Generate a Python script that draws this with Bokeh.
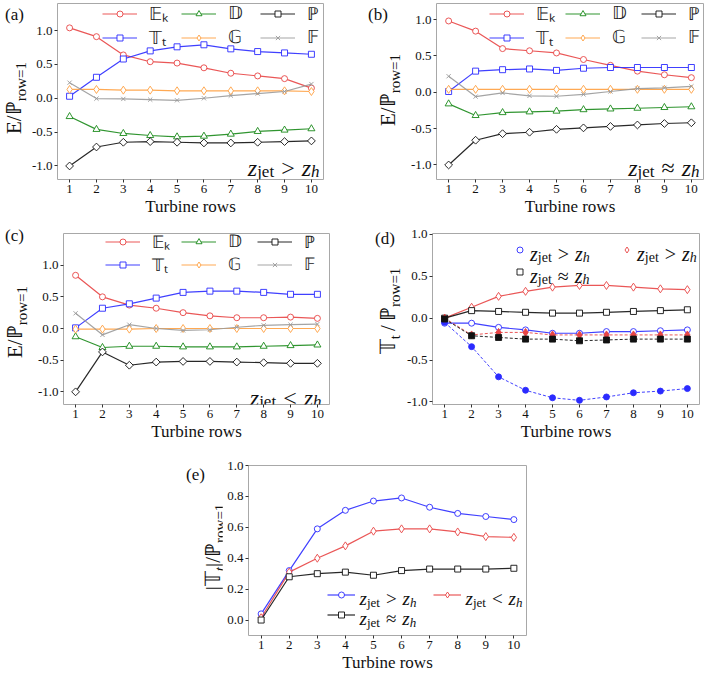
import numpy as np
from bokeh.plotting import figure
from bokeh.layouts import column, row
from bokeh.models import Label, Legend, LegendItem, FixedTicker, Range1d, PrintfTickFormatter, Div
from bokeh.embed import file_html
from bokeh.resources import INLINE

FONT = "Liberation Serif"

rows = [1, 2, 3, 4, 5, 6, 7, 8, 9, 10]
yticks_e = [-1.0, -0.5, 0.0, 0.5, 1.0]
yticks_abs = [0.0, 0.2, 0.4, 0.6, 0.8, 1.0]

# (a) z_jet > z_h
a_Ek = [1.04, 0.91, 0.64, 0.54, 0.52, 0.45, 0.37, 0.33, 0.29, 0.15]
a_Tt = [0.03, 0.31, 0.58, 0.70, 0.76, 0.79, 0.73, 0.69, 0.67, 0.65]
a_D = [-0.27, -0.46, -0.52, -0.55, -0.57, -0.56, -0.53, -0.49, -0.47, -0.45]
a_G = [0.13, 0.13, 0.12, 0.12, 0.11, 0.11, 0.11, 0.11, 0.11, 0.10]
a_P = [-1.00, -0.72, -0.65, -0.64, -0.65, -0.66, -0.66, -0.65, -0.64, -0.63]
a_F = [0.23, -0.005, -0.01, -0.02, -0.03, 0.00, 0.04, 0.07, 0.10, 0.21]

# (b) z_jet ~ z_h
b_Ek = [0.98, 0.84, 0.60, 0.57, 0.54, 0.45, 0.37, 0.29, 0.24, 0.20]
b_Tt = [0.01, 0.29, 0.31, 0.32, 0.30, 0.33, 0.34, 0.34, 0.34, 0.34]
b_D = [-0.16, -0.32, -0.28, -0.27, -0.26, -0.24, -0.23, -0.22, -0.21, -0.20]
b_G = [0.04, 0.04, 0.04, 0.04, 0.04, 0.04, 0.04, 0.04, 0.04, 0.04]
b_P = [-1.00, -0.66, -0.57, -0.55, -0.51, -0.49, -0.47, -0.45, -0.43, -0.42]
b_F = [0.22, -0.06, -0.01, -0.05, -0.055, -0.03, 0.01, 0.05, 0.06, 0.08]

# (c) z_jet < z_h
c_Ek = [0.84, 0.50, 0.37, 0.32, 0.25, 0.20, 0.17, 0.17, 0.18, 0.16]
c_Tt = [0.01, 0.32, 0.39, 0.48, 0.57, 0.59, 0.59, 0.57, 0.54, 0.54]
c_D = [-0.13, -0.30, -0.28, -0.28, -0.29, -0.29, -0.29, -0.28, -0.27, -0.26]
c_G = [-0.01, -0.01, -0.01, 0.00, 0.00, 0.00, 0.00, 0.00, 0.00, 0.00]
c_P = [-1.00, -0.37, -0.58, -0.53, -0.52, -0.52, -0.53, -0.54, -0.55, -0.55]
c_F = [0.24, -0.10, 0.06, 0.00, -0.03, -0.02, 0.02, 0.05, 0.06, 0.07]

# (d) T_t / P_row=1
d_above_solid = [-0.06, -0.06, -0.11, -0.14, -0.18, -0.18, -0.16, -0.16, -0.15, -0.14]
d_above_dash = [-0.05, -0.34, -0.70, -0.86, -0.95, -0.98, -0.94, -0.89, -0.87, -0.84]
d_below_solid = [0.00, 0.13, 0.26, 0.32, 0.37, 0.39, 0.39, 0.37, 0.35, 0.34]
d_below_dash = [0.00, -0.20, -0.17, -0.17, -0.20, -0.20, -0.20, -0.20, -0.20, -0.20]
d_approx_solid = [0.00, 0.09, 0.08, 0.07, 0.06, 0.06, 0.07, 0.08, 0.09, 0.10]
d_approx_dash = [-0.01, -0.21, -0.23, -0.25, -0.25, -0.27, -0.26, -0.25, -0.25, -0.25]

# (e) |T_t| / P_row=1
e_above = [0.04, 0.32, 0.59, 0.71, 0.77, 0.79, 0.73, 0.69, 0.67, 0.65]
e_below = [0.015, 0.31, 0.40, 0.48, 0.575, 0.59, 0.59, 0.57, 0.54, 0.535]
e_approx = [0.00, 0.28, 0.30, 0.31, 0.29, 0.32, 0.33, 0.33, 0.33, 0.335]

energy_labels = ["𝔼ₖ", "𝕋ₜ", "𝔻", "𝔾", "ℙ", "𝔽"]

RED = "#e84545"
BLUE = "#2b2bff"
GREEN = "#1a8a1a"
ORANGE = "#ffa040"
BLACK = "#111111"
GRAY = "#9a9a9a"

CW = {"z": .389, "j": .278, "e": .444, "t": .278, "h": .5,
      ">": .564, "<": .564, "≈": .549}


def tw(s, size):
    return sum(CW.get(c, 0.6) for c in s) * size


def seglen(segs):
    return sum(g + tw(t, s) for t, s, _, _, g in segs)


def rich(p, segs, x, y):
    pos = 0.0
    for text, size, shift, style, gap in segs:
        pos += gap
        p.add_layout(Label(x=x + pos, y=y - shift, x_units="screen", y_units="screen", text=text,
                           text_font=FONT, text_font_size=f"{size}px", text_font_style=style,
                           text_align="left", text_baseline="alphabetic", text_color="#111111"))
        pos += tw(text, size)
    return pos


def side_div(w, h, tag, tx, ty, ylab, cx, cy):
    html = (
        f'<div style="position:relative;width:{w}px;height:{h}px;overflow:visible;'
        f'font-family:\'{FONT}\',serif;color:#111;">'
        f'<div style="position:absolute;left:{tx}px;top:{ty}px;font-size:17px;line-height:1;'
        f'white-space:nowrap;">{tag}</div>'
        f'<div style="position:absolute;left:{cx}px;top:{cy}px;font-size:21px;line-height:1;'
        f'white-space:nowrap;transform:translate(-50%,-50%) rotate(-90deg);">{ylab}</div>'
        '</div>'
    )
    return Div(text=html, width=w, height=h, margin=0, styles={"overflow": "visible"})


SUB = '<span style="position:relative;top:0.3em;font-size:15px;">{}</span>'
YL_E = "E/ℙ" + SUB.format("row=1")
YL_D = "𝕋" + SUB.format("t") + "&#8201;/&#8201;ℙ" + SUB.format("row=1")
YL_ABS = "|𝕋" + SUB.format("<i>t</i>") + "|/ℙ" + SUB.format("row=1")


def make_fig(width, height, bl, br, bt, bb, yr, yticks):
    p = figure(width=width, height=height, x_range=Range1d(0.55, 10.45), y_range=Range1d(*yr),
               output_backend="svg", toolbar_location=None,
               min_border_left=bl, min_border_right=br, min_border_top=bt, min_border_bottom=bb)
    p.grid.visible = False
    p.outline_line_color = "#a8a8a8"
    p.outline_line_width = 1
    for ax in (p.xaxis, p.yaxis):
        ax.axis_line_color = None
        ax.major_tick_line_color = "#333333"
        ax.major_tick_in = 0
        ax.major_tick_out = 3
        ax.minor_tick_line_color = None
        ax.major_label_text_font = FONT
        ax.major_label_text_font_size = "13px"
        ax.major_label_text_color = "#111111"
        ax.major_label_standoff = 2
    p.xaxis.ticker = FixedTicker(ticks=rows)
    p.yaxis.ticker = FixedTicker(ticks=yticks)
    p.yaxis.formatter = PrintfTickFormatter(format="%.1f")
    p.xaxis.axis_label = "Turbine rows"
    p.xaxis.axis_label_text_font = FONT
    p.xaxis.axis_label_text_font_style = "normal"
    p.xaxis.axis_label_text_font_size = "17px"
    p.xaxis.axis_label_text_color = "#111111"
    p.xaxis.axis_label_standoff = 1
    return p


def series(p, y, color, marker, size, fill="white", dash="solid", lw=1.2, angle=0.0, alpha=0.9):
    l = p.line(rows, y, line_color=color, line_width=lw, line_dash=dash, line_alpha=alpha)
    s = p.scatter(rows, y, marker=marker, size=size, line_color=color, fill_color=fill,
                  line_width=1, line_alpha=alpha, angle=angle)
    return [l, s]


def energy_panel(p, data, leg_x, leg_top, fh, fs="18px", lw=32):
    Ek, Tt, D, G, P, F = data
    rs = [series(p, Ek, RED, "circle", 6),
          series(p, Tt, BLUE, "square", 6),
          series(p, D, GREEN, "triangle", 7),
          series(p, G, ORANGE, "diamond", 8),
          series(p, P, BLACK, "square", 5.5, angle=np.pi / 4),
          series(p, F, GRAY, "x", 6)]
    items = [LegendItem(label=lab, renderers=r) for lab, r in zip(energy_labels, rs)]
    leg = Legend(items=items, location=(leg_x, fh - leg_top - 42), nrows=2,
                 orientation="vertical",
                 border_line_color=None, background_fill_alpha=0.0,
                 label_text_font=FONT, label_text_font_size=fs, label_text_color="#222222",
                 glyph_width=35, glyph_height=15, label_height=15, label_width=lw,
                 label_standoff=12, spacing=0, padding=0, margin=0)
    p.add_layout(leg)


def zlabel(p, rel, fw, right_gap, base):
    segs = [("z", 24, 0, "italic", 0), ("jet", 17, 4, "normal", 0), (rel, 24, 0, "normal", 7),
            ("z", 24, 0, "italic", 7), ("h", 17, 4, "italic", 0)]
    rich(p, segs, fw - right_gap - seglen(segs), base)


def marker_key(p, renderers, x, cy, gw, rel, std, big=20, small=14):
    leg = Legend(items=[LegendItem(label=" ", renderers=renderers)],
                 location=(x, cy - 7.5), border_line_color=None, background_fill_alpha=0.0,
                 label_text_font_size="6px", glyph_width=gw, glyph_height=15,
                 label_height=15, label_width=0, label_standoff=0, padding=0, margin=0)
    p.add_layout(leg)
    segs = [("z", big, 0, "italic", 0), ("jet", small, 4, "normal", 0), (rel, big, 0, "normal", 6),
            ("z", big, 0, "italic", 6), ("h", small, 4, "italic", 0)]
    rich(p, segs, x + gw + std, cy - 4)


# ---------- row 1 (panels a, b) ----------
H1 = 225
FH1 = H1 - 3 - 46
da = side_div(28, H1, "(a)", 5, 6, YL_E, 13.5, 98)
pa = make_fig(325, H1, 26, 30, 3, 46, (-1.2, 1.4), yticks_e)
energy_panel(pa, (a_Ek, a_Tt, a_D, a_G, a_P, a_F), 45, 4, FH1)
zlabel(pa, ">", 269, 7, 12)

db = side_div(54, H1, "(b)", 15, 6, YL_E, 35, 90)
pb = make_fig(298, H1, 26, 2, 3, 46, (-1.2, 1.22), yticks_e)
energy_panel(pb, (b_Ek, b_Tt, b_D, b_G, b_P, b_F), 53, 4, FH1, lw=29)
zlabel(pb, "≈", 270, 7, 12)

# ---------- row 2 (panels c, d) ----------
H2 = 225
FHC = H2 - 4 - 46
dc = side_div(34, H2, "(c)", 5, 2, YL_E, 14.5, 97)
pc = make_fig(319, H2, 26, 24, 4, 46, (-1.2, 1.5), yticks_e)
energy_panel(pc, (c_Ek, c_Tt, c_D, c_G, c_P, c_F), 42, 5, FHC, fs="17px", lw=29)
zlabel(pc, "<", 269, 11, 7)

FHD = H2 - 8 - 46
dd = side_div(50, H2, "(d)", 22, 5, YL_D, 35, 86)
pd = make_fig(299, H2, 26, 3, 8, 46, (-1.03, 1.01), yticks_e)
sa = series(pd, d_above_solid, BLUE, "circle", 6)
sb = series(pd, d_below_solid, RED, "diamond", 8)
sc = series(pd, d_approx_solid, BLACK, "square", 6)
series(pd, d_above_dash, BLUE, "circle", 6, fill=BLUE, dash="3 2", lw=1.0)
series(pd, d_below_dash, RED, "diamond", 8, fill=RED, dash="3 2", lw=1.0)
series(pd, d_approx_dash, BLACK, "square", 6, fill=BLACK, dash="3 2", lw=1.0)
marker_key(pd, [sa[1]], 79.5, FHD - 16, 15, ">", 3)
marker_key(pd, [sb[1]], 186.5, FHD - 16, 15, ">", 3)
marker_key(pd, [sc[1]], 79.5, FHD - 38, 15, "≈", 3)

# ---------- row 3 (panel e) ----------
H3 = 228
FHE = H3 - 15 - 43
de = side_div(222, H3, "(e)", 186, 16, YL_ABS, 212.5, 97)
pe = make_fig(314, H3, 26, 10, 15, 43, (-0.1, 1.0), yticks_abs)
ea = series(pe, e_above, BLUE, "circle", 6)
eb = series(pe, e_below, RED, "diamond", 8)
ec = series(pe, e_approx, BLACK, "square", 6)
marker_key(pe, ea, 79, 41, 28, ">", 4, 19, 13)
marker_key(pe, eb, 185, 41, 28, "<", 4, 19, 13)
marker_key(pe, ec, 79, 21, 28, "≈", 4, 19, 13)

layout = column(row(da, pa, db, pb), row(dc, pc, dd, pd), row(de, pe))
open("out.html", "w").write(file_html(layout, INLINE))
